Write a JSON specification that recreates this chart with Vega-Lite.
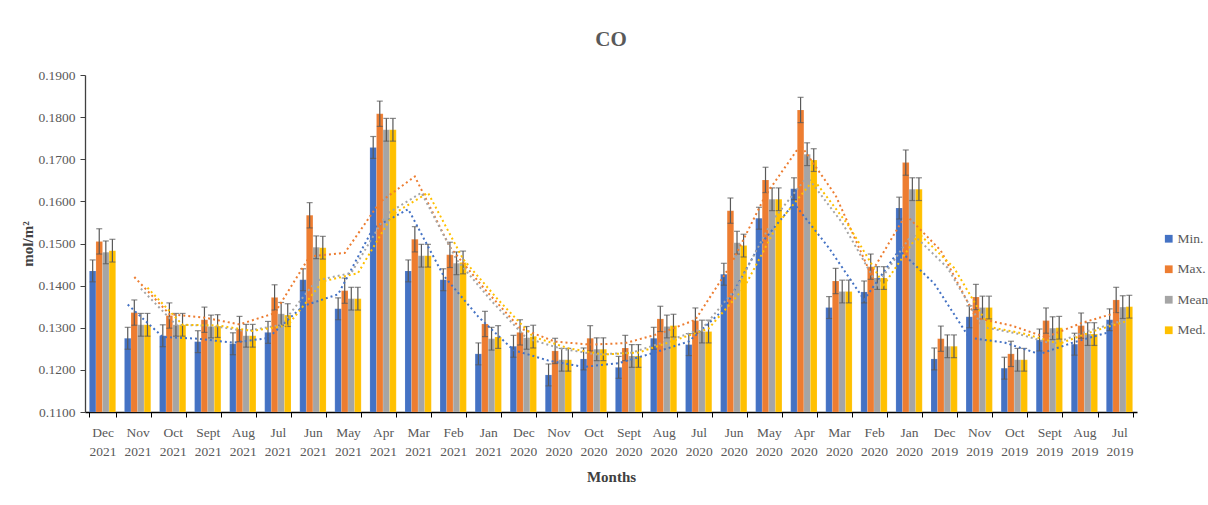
{
  "$schema": "https://vega.github.io/schema/vega-lite/v6.json",
  "autosize": {"type": "none"},
  "padding": {"left": 85, "top": 75, "right": 71, "bottom": 93},
  "width": 1052,
  "height": 337,
  "background": "white",
  "title": {"text": "CO", "font": "Liberation Serif", "fontSize": 21, "fontWeight": "bold", "color": "#595959", "offset": 18, "anchor": "middle"},
  "config": {"view": {"stroke": null}, "font": "Liberation Serif"},
  "data": {"values": [
    {"m":"Dec 2021","s":"Min.","v":0.1435,"lo":0.1409,"hi":0.1461},{"m":"Dec 2021","s":"Max.","v":0.1505,"lo":0.1475,"hi":0.1535},{"m":"Dec 2021","s":"Mean","v":0.1479,"lo":0.1452,"hi":0.1506},{"m":"Dec 2021","s":"Med.","v":0.1483,"lo":0.1456,"hi":0.1510},
    {"m":"Nov 2021","s":"Min.","v":0.1275,"lo":0.1249,"hi":0.1301},{"m":"Nov 2021","s":"Max.","v":0.1336,"lo":0.1306,"hi":0.1366},{"m":"Nov 2021","s":"Mean","v":0.1307,"lo":0.1280,"hi":0.1334},{"m":"Nov 2021","s":"Med.","v":0.1307,"lo":0.1280,"hi":0.1334},
    {"m":"Oct 2021","s":"Min.","v":0.1281,"lo":0.1255,"hi":0.1307},{"m":"Oct 2021","s":"Max.","v":0.1329,"lo":0.1299,"hi":0.1359},{"m":"Oct 2021","s":"Mean","v":0.1307,"lo":0.1280,"hi":0.1334},{"m":"Oct 2021","s":"Med.","v":0.1307,"lo":0.1280,"hi":0.1334},
    {"m":"Sept 2021","s":"Min.","v":0.1267,"lo":0.1241,"hi":0.1293},{"m":"Sept 2021","s":"Max.","v":0.1319,"lo":0.1289,"hi":0.1349},{"m":"Sept 2021","s":"Mean","v":0.1303,"lo":0.1276,"hi":0.1330},{"m":"Sept 2021","s":"Med.","v":0.1304,"lo":0.1277,"hi":0.1331},
    {"m":"Aug 2021","s":"Min.","v":0.1262,"lo":0.1236,"hi":0.1288},{"m":"Aug 2021","s":"Max.","v":0.1297,"lo":0.1267,"hi":0.1327},{"m":"Aug 2021","s":"Mean","v":0.1281,"lo":0.1254,"hi":0.1308},{"m":"Aug 2021","s":"Med.","v":0.1281,"lo":0.1254,"hi":0.1308},
    {"m":"Jul 2021","s":"Min.","v":0.1289,"lo":0.1263,"hi":0.1315},{"m":"Jul 2021","s":"Max.","v":0.1372,"lo":0.1342,"hi":0.1402},{"m":"Jul 2021","s":"Mean","v":0.1333,"lo":0.1306,"hi":0.1360},{"m":"Jul 2021","s":"Med.","v":0.1330,"lo":0.1303,"hi":0.1357},
    {"m":"Jun 2021","s":"Min.","v":0.1414,"lo":0.1388,"hi":0.1440},{"m":"Jun 2021","s":"Max.","v":0.1567,"lo":0.1537,"hi":0.1597},{"m":"Jun 2021","s":"Mean","v":0.1491,"lo":0.1464,"hi":0.1518},{"m":"Jun 2021","s":"Med.","v":0.1490,"lo":0.1463,"hi":0.1517},
    {"m":"May 2021","s":"Min.","v":0.1345,"lo":0.1319,"hi":0.1371},{"m":"May 2021","s":"Max.","v":0.1388,"lo":0.1358,"hi":0.1418},{"m":"May 2021","s":"Mean","v":0.1369,"lo":0.1342,"hi":0.1396},{"m":"May 2021","s":"Med.","v":0.1369,"lo":0.1342,"hi":0.1396},
    {"m":"Apr 2021","s":"Min.","v":0.1728,"lo":0.1702,"hi":0.1754},{"m":"Apr 2021","s":"Max.","v":0.1808,"lo":0.1778,"hi":0.1838},{"m":"Apr 2021","s":"Mean","v":0.1770,"lo":0.1743,"hi":0.1797},{"m":"Apr 2021","s":"Med.","v":0.1770,"lo":0.1743,"hi":0.1797},
    {"m":"Mar 2021","s":"Min.","v":0.1435,"lo":0.1409,"hi":0.1461},{"m":"Mar 2021","s":"Max.","v":0.1510,"lo":0.1480,"hi":0.1540},{"m":"Mar 2021","s":"Mean","v":0.1471,"lo":0.1444,"hi":0.1498},{"m":"Mar 2021","s":"Med.","v":0.1471,"lo":0.1444,"hi":0.1498},
    {"m":"Feb 2021","s":"Min.","v":0.1414,"lo":0.1388,"hi":0.1440},{"m":"Feb 2021","s":"Max.","v":0.1473,"lo":0.1443,"hi":0.1503},{"m":"Feb 2021","s":"Mean","v":0.1453,"lo":0.1426,"hi":0.1480},{"m":"Feb 2021","s":"Med.","v":0.1455,"lo":0.1428,"hi":0.1482},
    {"m":"Jan 2021","s":"Min.","v":0.1238,"lo":0.1212,"hi":0.1264},{"m":"Jan 2021","s":"Max.","v":0.1309,"lo":0.1279,"hi":0.1339},{"m":"Jan 2021","s":"Mean","v":0.1274,"lo":0.1247,"hi":0.1301},{"m":"Jan 2021","s":"Med.","v":0.1278,"lo":0.1251,"hi":0.1305},
    {"m":"Dec 2020","s":"Min.","v":0.1256,"lo":0.1230,"hi":0.1282},{"m":"Dec 2020","s":"Max.","v":0.1289,"lo":0.1259,"hi":0.1319},{"m":"Dec 2020","s":"Mean","v":0.1276,"lo":0.1249,"hi":0.1303},{"m":"Dec 2020","s":"Med.","v":0.1279,"lo":0.1252,"hi":0.1306},
    {"m":"Nov 2020","s":"Min.","v":0.1188,"lo":0.1162,"hi":0.1214},{"m":"Nov 2020","s":"Max.","v":0.1245,"lo":0.1215,"hi":0.1275},{"m":"Nov 2020","s":"Mean","v":0.1224,"lo":0.1197,"hi":0.1251},{"m":"Nov 2020","s":"Med.","v":0.1224,"lo":0.1197,"hi":0.1251},
    {"m":"Oct 2020","s":"Min.","v":0.1226,"lo":0.1200,"hi":0.1252},{"m":"Oct 2020","s":"Max.","v":0.1275,"lo":0.1245,"hi":0.1305},{"m":"Oct 2020","s":"Mean","v":0.1249,"lo":0.1222,"hi":0.1276},{"m":"Oct 2020","s":"Med.","v":0.1249,"lo":0.1222,"hi":0.1276},
    {"m":"Sept 2020","s":"Min.","v":0.1206,"lo":0.1180,"hi":0.1232},{"m":"Sept 2020","s":"Max.","v":0.1252,"lo":0.1222,"hi":0.1282},{"m":"Sept 2020","s":"Mean","v":0.1233,"lo":0.1206,"hi":0.1260},{"m":"Sept 2020","s":"Med.","v":0.1233,"lo":0.1206,"hi":0.1260},
    {"m":"Aug 2020","s":"Min.","v":0.1275,"lo":0.1249,"hi":0.1301},{"m":"Aug 2020","s":"Max.","v":0.1321,"lo":0.1291,"hi":0.1351},{"m":"Aug 2020","s":"Mean","v":0.1303,"lo":0.1276,"hi":0.1330},{"m":"Aug 2020","s":"Med.","v":0.1305,"lo":0.1278,"hi":0.1332},
    {"m":"Jul 2020","s":"Min.","v":0.1260,"lo":0.1234,"hi":0.1286},{"m":"Jul 2020","s":"Max.","v":0.1317,"lo":0.1287,"hi":0.1347},{"m":"Jul 2020","s":"Mean","v":0.1291,"lo":0.1264,"hi":0.1318},{"m":"Jul 2020","s":"Med.","v":0.1291,"lo":0.1264,"hi":0.1318},
    {"m":"Jun 2020","s":"Min.","v":0.1427,"lo":0.1401,"hi":0.1453},{"m":"Jun 2020","s":"Max.","v":0.1578,"lo":0.1548,"hi":0.1608},{"m":"Jun 2020","s":"Mean","v":0.1502,"lo":0.1475,"hi":0.1529},{"m":"Jun 2020","s":"Med.","v":0.1495,"lo":0.1468,"hi":0.1522},
    {"m":"May 2020","s":"Min.","v":0.1560,"lo":0.1534,"hi":0.1586},{"m":"May 2020","s":"Max.","v":0.1651,"lo":0.1621,"hi":0.1681},{"m":"May 2020","s":"Mean","v":0.1605,"lo":0.1578,"hi":0.1632},{"m":"May 2020","s":"Med.","v":0.1605,"lo":0.1578,"hi":0.1632},
    {"m":"Apr 2020","s":"Min.","v":0.1630,"lo":0.1604,"hi":0.1656},{"m":"Apr 2020","s":"Max.","v":0.1817,"lo":0.1787,"hi":0.1847},{"m":"Apr 2020","s":"Mean","v":0.1712,"lo":0.1685,"hi":0.1739},{"m":"Apr 2020","s":"Med.","v":0.1698,"lo":0.1671,"hi":0.1725},
    {"m":"Mar 2020","s":"Min.","v":0.1348,"lo":0.1322,"hi":0.1374},{"m":"Mar 2020","s":"Max.","v":0.1411,"lo":0.1381,"hi":0.1441},{"m":"Mar 2020","s":"Mean","v":0.1386,"lo":0.1359,"hi":0.1413},{"m":"Mar 2020","s":"Med.","v":0.1386,"lo":0.1359,"hi":0.1413},
    {"m":"Feb 2020","s":"Min.","v":0.1385,"lo":0.1359,"hi":0.1411},{"m":"Feb 2020","s":"Max.","v":0.1445,"lo":0.1415,"hi":0.1475},{"m":"Feb 2020","s":"Mean","v":0.1418,"lo":0.1391,"hi":0.1445},{"m":"Feb 2020","s":"Med.","v":0.1418,"lo":0.1391,"hi":0.1445},
    {"m":"Jan 2020","s":"Min.","v":0.1584,"lo":0.1558,"hi":0.1610},{"m":"Jan 2020","s":"Max.","v":0.1692,"lo":0.1662,"hi":0.1722},{"m":"Jan 2020","s":"Mean","v":0.1629,"lo":0.1602,"hi":0.1656},{"m":"Jan 2020","s":"Med.","v":0.1629,"lo":0.1602,"hi":0.1656},
    {"m":"Dec 2019","s":"Min.","v":0.1226,"lo":0.1200,"hi":0.1252},{"m":"Dec 2019","s":"Max.","v":0.1274,"lo":0.1244,"hi":0.1304},{"m":"Dec 2019","s":"Mean","v":0.1256,"lo":0.1229,"hi":0.1283},{"m":"Dec 2019","s":"Med.","v":0.1256,"lo":0.1229,"hi":0.1283},
    {"m":"Nov 2019","s":"Min.","v":0.1326,"lo":0.1300,"hi":0.1352},{"m":"Nov 2019","s":"Max.","v":0.1373,"lo":0.1343,"hi":0.1403},{"m":"Nov 2019","s":"Mean","v":0.1348,"lo":0.1321,"hi":0.1375},{"m":"Nov 2019","s":"Med.","v":0.1348,"lo":0.1321,"hi":0.1375},
    {"m":"Oct 2019","s":"Min.","v":0.1204,"lo":0.1178,"hi":0.1230},{"m":"Oct 2019","s":"Max.","v":0.1238,"lo":0.1208,"hi":0.1268},{"m":"Oct 2019","s":"Mean","v":0.1224,"lo":0.1197,"hi":0.1251},{"m":"Oct 2019","s":"Med.","v":0.1224,"lo":0.1197,"hi":0.1251},
    {"m":"Sept 2019","s":"Min.","v":0.1271,"lo":0.1245,"hi":0.1297},{"m":"Sept 2019","s":"Max.","v":0.1317,"lo":0.1287,"hi":0.1347},{"m":"Sept 2019","s":"Mean","v":0.1299,"lo":0.1272,"hi":0.1326},{"m":"Sept 2019","s":"Med.","v":0.1300,"lo":0.1273,"hi":0.1327},
    {"m":"Aug 2019","s":"Min.","v":0.1261,"lo":0.1235,"hi":0.1287},{"m":"Aug 2019","s":"Max.","v":0.1305,"lo":0.1275,"hi":0.1335},{"m":"Aug 2019","s":"Mean","v":0.1285,"lo":0.1258,"hi":0.1312},{"m":"Aug 2019","s":"Med.","v":0.1285,"lo":0.1258,"hi":0.1312},
    {"m":"Jul 2019","s":"Min.","v":0.1319,"lo":0.1293,"hi":0.1345},{"m":"Jul 2019","s":"Max.","v":0.1366,"lo":0.1336,"hi":0.1396},{"m":"Jul 2019","s":"Mean","v":0.1349,"lo":0.1322,"hi":0.1376},{"m":"Jul 2019","s":"Med.","v":0.1350,"lo":0.1323,"hi":0.1377}
  ]},
  "encoding": {
    "x": {
      "field": "m", "type": "nominal",
      "scale": {"domain": ["Dec 2021","Nov 2021","Oct 2021","Sept 2021","Aug 2021","Jul 2021","Jun 2021","May 2021","Apr 2021","Mar 2021","Feb 2021","Jan 2021","Dec 2020","Nov 2020","Oct 2020","Sept 2020","Aug 2020","Jul 2020","Jun 2020","May 2020","Apr 2020","Mar 2020","Feb 2020","Jan 2020","Dec 2019","Nov 2019","Oct 2019","Sept 2019","Aug 2019","Jul 2019"], "paddingInner": 0.25, "paddingOuter": 0.125},
      "axis": {"title": "Months", "titleFont": "Liberation Serif", "titleFontSize": 15, "titleFontWeight": "bold", "titleColor": "#404040", "titlePadding": 12,
               "labelAngle": 0, "labelExpr": "split(datum.label, ' ')", "labelFont": "Liberation Serif", "labelFontSize": 13.5, "labelColor": "#595959", "labelPadding": 8, "labelLineHeight": 19,
               "tickBand": "extent", "tickSize": 5, "tickColor": "#000000", "domainColor": "#000000", "domainWidth": 1.3, "grid": false}
    },
    "xOffset": {"field": "s", "type": "nominal", "scale": {"domain": ["Min.","Max.","Mean","Med."], "paddingInner": 0, "paddingOuter": 0}}
  },
  "layer": [
    {
      "mark": {"type": "bar", "stroke": "white", "strokeOpacity": 0.25, "strokeWidth": 0.5},
      "encoding": {
        "y": {"field": "v", "type": "quantitative", "scale": {"domain": [0.11, 0.19], "zero": false, "nice": false},
              "axis": {"title": "mol/m²", "titleFont": "Liberation Serif", "titleFontSize": 15, "titleFontWeight": "bold", "titleColor": "#404040", "titlePadding": 2,
                       "values": [0.11,0.12,0.13,0.14,0.15,0.16,0.17,0.18,0.19], "format": ".4f", "labelFont": "Liberation Serif", "labelFontSize": 13.5, "labelColor": "#595959", "labelPadding": 5,
                       "tickSize": 5, "tickColor": "#404040", "domainColor": "#404040", "domainWidth": 1.3, "grid": false}},
        "y2": {"datum": 0.11},
        "color": {"field": "s", "type": "nominal", "scale": {"domain": ["Min.","Max.","Mean","Med."], "range": ["#4472C4","#ED7D31","#A5A5A5","#FFC000"]},
                  "legend": {"title": null, "orient": "none", "legendX": 1077, "legendY": 157, "symbolType": "square", "symbolSize": 60, "symbolStrokeWidth": 0,
                             "labelFont": "Liberation Serif", "labelFontSize": 13.5, "labelColor": "#595959", "rowPadding": 15.5, "labelOffset": 2}}
      }
    },
    {
      "mark": {"type": "rule", "color": "#595959", "strokeWidth": 1.2},
      "encoding": {"y": {"field": "lo", "type": "quantitative"}, "y2": {"field": "hi"}}
    },
    {
      "mark": {"type": "tick", "color": "#595959", "thickness": 1.2, "size": 6},
      "encoding": {"y": {"field": "lo", "type": "quantitative"}}
    },
    {
      "mark": {"type": "tick", "color": "#595959", "thickness": 1.2, "size": 6},
      "encoding": {"y": {"field": "hi", "type": "quantitative"}}
    },
    {
      "transform": [
        {"window": [{"op": "mean", "field": "v", "as": "ma"}, {"op": "row_number", "as": "rn"}], "frame": [-1, 0], "groupby": ["s"]},
        {"filter": "datum.rn > 1"}
      ],
      "mark": {"type": "line", "strokeDash": [2, 3], "strokeWidth": 2, "strokeCap": "butt"},
      "encoding": {
        "y": {"field": "ma", "type": "quantitative"},
        "color": {"field": "s", "type": "nominal", "legend": null},
        "detail": {"field": "s"}
      }
    }
  ]
}
